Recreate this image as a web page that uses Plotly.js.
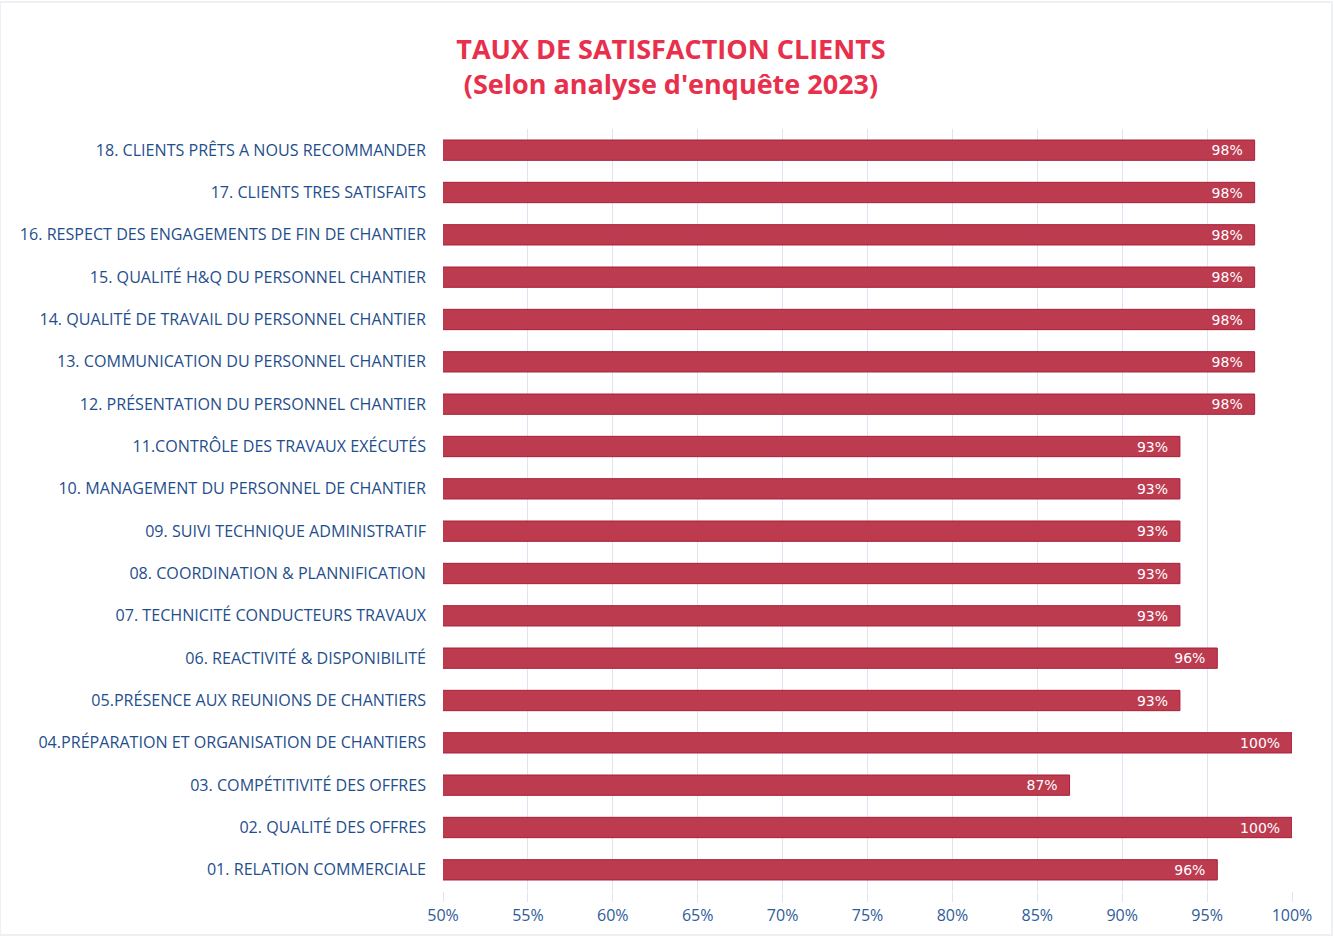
<!DOCTYPE html>
<html>
<head>
<meta charset="utf-8">
<script src="https://cdn.plot.ly/plotly-3.0.1.min.js"></script>
<style>html,body{margin:0;padding:0;background:#fff;}#chart{width:1334px;height:937px;}</style>
</head>
<body>
<div id="chart"></div>
<script>
const categories = [
  "01. RELATION COMMERCIALE",
  "02. QUALITÉ DES OFFRES",
  "03. COMPÉTITIVITÉ DES OFFRES",
  "04.PRÉPARATION ET ORGANISATION DE CHANTIERS",
  "05.PRÉSENCE AUX REUNIONS DE CHANTIERS",
  "06. REACTIVITÉ & DISPONIBILITÉ",
  "07. TECHNICITÉ CONDUCTEURS TRAVAUX",
  "08. COORDINATION & PLANNIFICATION",
  "09. SUIVI TECHNIQUE ADMINISTRATIF",
  "10. MANAGEMENT DU PERSONNEL DE CHANTIER",
  "11.CONTRÔLE DES TRAVAUX EXÉCUTÉS",
  "12. PRÉSENTATION DU PERSONNEL CHANTIER",
  "13. COMMUNICATION DU PERSONNEL CHANTIER",
  "14. QUALITÉ DE TRAVAIL DU PERSONNEL CHANTIER",
  "15. QUALITÉ H&Q DU PERSONNEL CHANTIER",
  "16. RESPECT DES ENGAGEMENTS DE FIN DE CHANTIER",
  "17. CLIENTS TRES SATISFAITS",
  "18. CLIENTS PRÊTS A NOUS RECOMMANDER"
];
const satisfaction = [0.956, 1.0, 0.869, 1.0, 0.934, 0.956, 0.934, 0.934, 0.934, 0.934, 0.934, 0.978, 0.978, 0.978, 0.978, 0.978, 0.978, 0.978];
const xTickVals = [0.5, 0.55, 0.6, 0.65, 0.7, 0.75, 0.8, 0.85, 0.9, 0.95, 1.0];
const xTickText = ["50%", "55%", "60%", "65%", "70%", "75%", "80%", "85%", "90%", "95%", "100%"];
const titleText = "TAUX DE SATISFACTION CLIENTS<br>(Selon analyse d'enquête 2023)";

const trace = {
  type: 'bar',
  orientation: 'h',
  y: categories,
  x: satisfaction,
  base: 0,
  width: 0.48,
  marker: {color: '#BD3B4F', line: {color: '#A8203A', width: 1}},
  text: satisfaction.map(v => Math.round(v * 100) + '%\u00a0\u00a0'),
  textposition: 'inside',
  insidetextanchor: 'end',
  textfont: {color: '#ffffff', size: 14, family: 'DejaVu Sans, sans-serif'},
  constraintext: 'none',
  cliponaxis: false,
  hoverinfo: 'x+y'
};

const layout = {
  width: 1334,
  height: 937,
  margin: {l: 443, r: 42, t: 129, b: 46},
  paper_bgcolor: '#ffffff',
  plot_bgcolor: '#ffffff',
  showlegend: false,
  bargap: 0.52,
  title: {
    text: titleText,
    font: {family: 'Open Sans, sans-serif', size: 27, color: '#E8304C', weight: 700},
    x: 0.503, xanchor: 'center',
    y: 0.9375, yanchor: 'middle'
  },
  xaxis: {
    range: [0.5, 1.0],
    tickvals: xTickVals,
    ticktext: xTickText,
    showgrid: true,
    gridcolor: '#dfe4f1',
    gridwidth: 1,
    zeroline: false,
    showline: false,
    ticks: 'outside',
    ticklen: 10,
    tickcolor: '#dfe4f1',
    tickfont: {family: 'Open Sans, sans-serif', size: 16, color: '#2E5C9A'},
    fixedrange: true
  },
  yaxis: {
    type: 'category',
    categoryorder: 'array',
    categoryarray: categories,
    ticks: '',
    ticklabelstandoff: 16,
    showline: false,
    showgrid: false,
    tickfont: {family: 'Open Sans, sans-serif', size: 16.1, color: '#1F4E8C'},
    automargin: false,
    fixedrange: true
  },
  shapes: [{
    type: 'rect', xref: 'paper', yref: 'paper',
    x0: -443/849, x1: 1 + 40/849, y0: -44/762, y1: 1 + 127/762,
    line: {color: '#eef0f6', width: 2}, fillcolor: 'rgba(0,0,0,0)', layer: 'below'
  }]
};

Plotly.newPlot('chart', [trace], layout, {displayModeBar: false, staticPlot: true});
</script>
</body>
</html>
